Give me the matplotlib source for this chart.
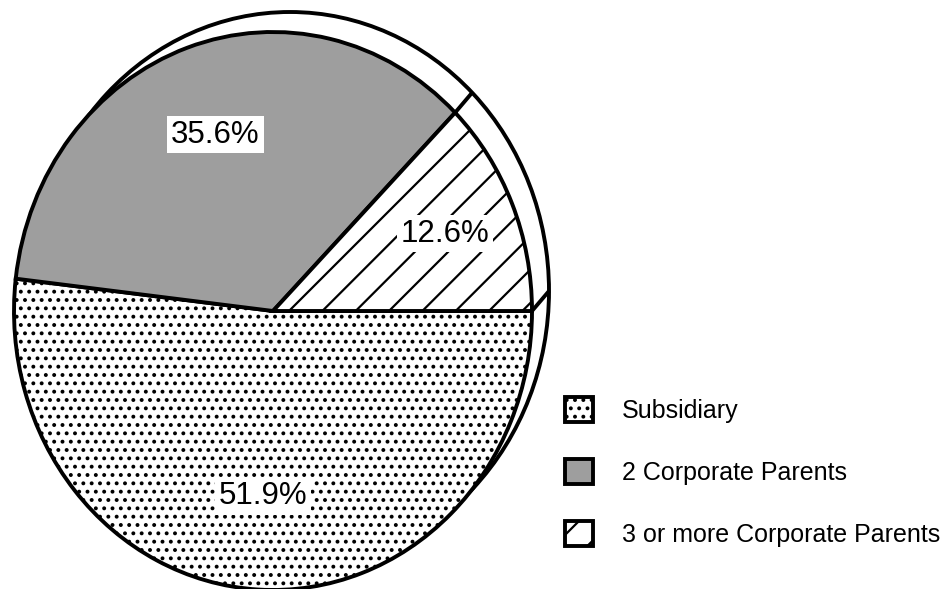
import matplotlib
matplotlib.use("Agg")
import matplotlib.pyplot as plt
from matplotlib.patches import Circle
import numpy as np

plt.rcParams['font.family'] = ['Liberation Sans', 'DejaVu Sans']
plt.rcParams['hatch.linewidth'] = 1.6

# ---- data ----
categories = ["Subsidiary", "2 Corporate Parents", "3 or more Corporate Parents"]
shares = [51.9, 35.6, 12.6]
pct_labels = ["51.9%", "35.6%", "12.6%"]

# ---- styles ----
face_colors = ["white", "#9e9e9e", "white"]
hatches = ["..", "", "/"]
label_r = [0.665, 0.67, 0.72]

W, H = 944, 589
cx_px, cy_px = 273, 311      # pie centre (pixels from top-left)
rx_px, ry_px = 259, 279      # ellipse radii in pixels
off_px = (17, 20)            # extrusion offset (right, up)
LW = 2.8

fig = plt.figure(figsize=(W / 100, H / 100), dpi=100)
ax = fig.add_axes([0, 0, 1, 1])

wedges, _ = ax.pie(shares, colors=face_colors, hatch=hatches, startangle=0,
                   counterclock=False, radius=1, center=(0, 0),
                   wedgeprops=dict(edgecolor="black", linewidth=LW, zorder=3))

dx, dy = off_px[0] / rx_px, off_px[1] / ry_px
rim = Circle((dx, dy), 1.0, facecolor="white", edgecolor="black", linewidth=LW, zorder=1)
ax.add_patch(rim)

# extrusion edges at wedge boundaries (hidden behind the pie where needed)
for w in wedges:
    a = np.deg2rad(w.theta1)
    x0, y0 = np.cos(a), np.sin(a)
    ax.plot([x0, x0 + dx], [y0, y0 + dy], color="black", linewidth=LW, zorder=2,
            solid_capstyle="butt")

# percentage labels at wedge mid-angles
for w, txt, r in zip(wedges, pct_labels, label_r):
    mid = np.deg2rad((w.theta1 + w.theta2) / 2)
    ax.text(r * np.cos(mid), r * np.sin(mid), txt, ha="center", va="center",
            fontsize=22.5, color="black", zorder=5,
            bbox=dict(boxstyle="square,pad=0.12", facecolor="white", edgecolor="none"))

ax.set_aspect("auto")
ax.set_xlim(-cx_px / rx_px, (W - cx_px) / rx_px)
ax.set_ylim(-(H - cy_px) / ry_px, cy_px / ry_px)
ax.axis("off")

leg = ax.legend(wedges, categories, loc="upper left",
                bbox_to_anchor=(565 / W, 1 - 397 / H), bbox_transform=fig.transFigure,
                frameon=False, fontsize=18, handlelength=1.12, handleheight=1.16,
                handletextpad=1.15, labelspacing=1.45, borderpad=0, borderaxespad=0)
for h in leg.legend_handles:
    h.set_linewidth(LW)

fig.savefig("out.png", dpi=100)
